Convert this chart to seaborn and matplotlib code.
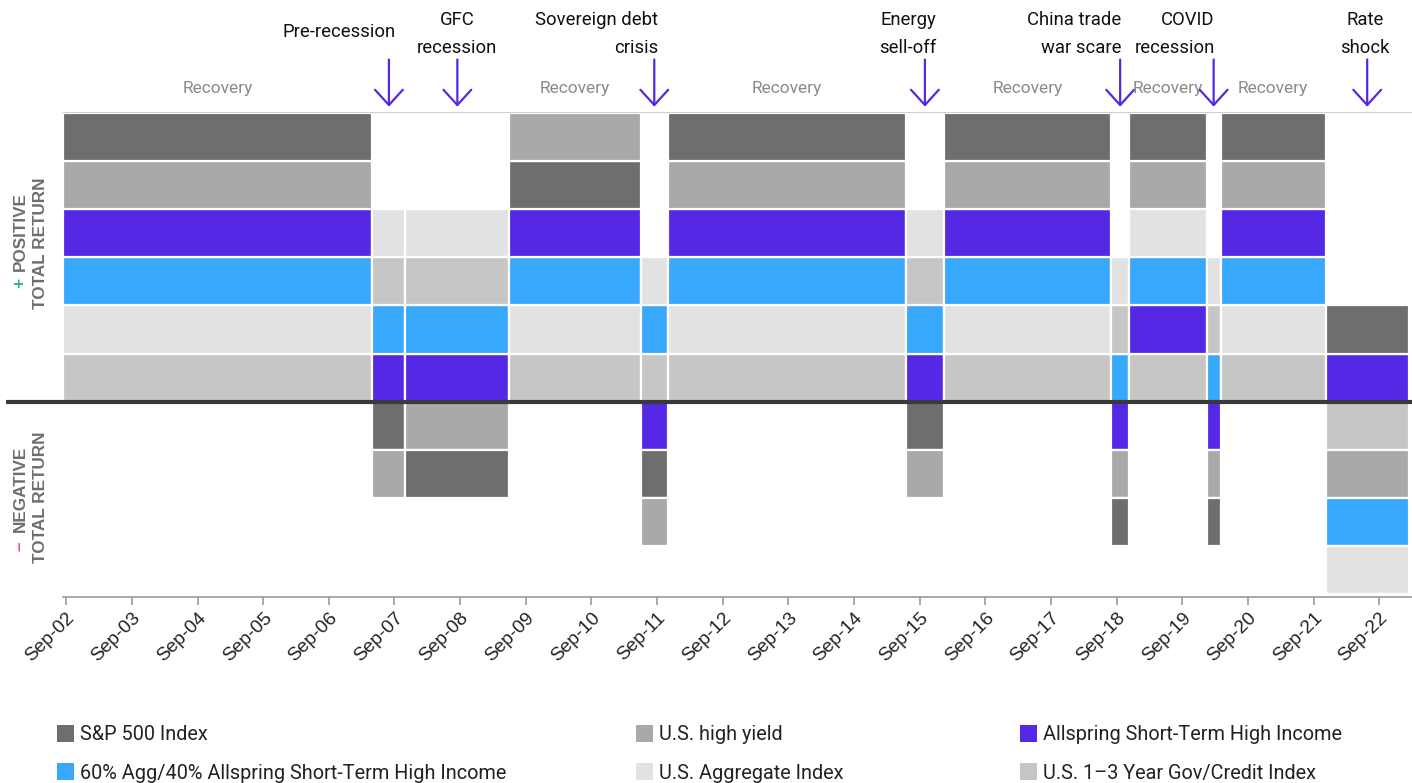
import numpy as np
import pandas as pd
import seaborn as sns
import matplotlib.pyplot as plt
from matplotlib.patches import Patch

# index names and colours
keys = ["SPX", "HY", "STHI", "6040", "AGG", "GC13"]
names = ["S&P 500 Index", "U.S. high yield", "Allspring Short-Term High Income",
         "60% Agg/40% Allspring Short-Term High Income", "U.S. Aggregate Index",
         "U.S. 1\u20133 Year Gov/Credit Index"]
colors = ["#6e6e6e", "#a9a9a9", "#5528e6", "#38a8fc", "#e2e2e2", "#c6c6c6"]

# market regimes
period_start = ["2002-08-14", "2007-05-01", "2007-11-01", "2009-06-01", "2011-06-01",
                "2011-11-01", "2015-06-15", "2016-01-15", "2018-08-01", "2018-11-10",
                "2020-01-15", "2020-04-01", "2021-11-07"]
period_end = period_start[1:] + ["2023-02-12"]
period_label = ["Recovery", "Pre-recession", "GFC\nrecession", "Recovery",
                "Sovereign debt\ncrisis", "Recovery", "Energy\nsell-off", "Recovery",
                "China trade\nwar scare", "Recovery", "COVID\nrecession", "Recovery",
                "Rate\nshock"]

# indices with positive total return, ranked upward from zero line
positive = [
    ["GC13", "AGG", "6040", "STHI", "HY", "SPX"],
    ["STHI", "6040", "GC13", "AGG"],
    ["STHI", "6040", "GC13", "AGG"],
    ["GC13", "AGG", "6040", "STHI", "SPX", "HY"],
    ["GC13", "6040", "AGG"],
    ["GC13", "AGG", "6040", "STHI", "HY", "SPX"],
    ["STHI", "6040", "GC13", "AGG"],
    ["GC13", "AGG", "6040", "STHI", "HY", "SPX"],
    ["6040", "GC13", "AGG"],
    ["GC13", "STHI", "6040", "AGG", "HY", "SPX"],
    ["6040", "GC13", "AGG"],
    ["GC13", "AGG", "6040", "STHI", "HY", "SPX"],
    ["STHI", "SPX"],
]
# indices with negative total return, ranked downward from zero line
negative = [
    [], ["SPX", "HY"], ["HY", "SPX"], [], ["STHI", "SPX", "HY"], [],
    ["SPX", "HY"], [], ["STHI", "HY", "SPX"], [], ["STHI", "HY", "SPX"], [],
    ["GC13", "HY", "6040", "AGG"],
]

tick_dates = ["%d-09-01" % y for y in range(2002, 2023)]
tick_labels = ["Sep-02", "Sep-03", "Sep-04", "Sep-05", "Sep-06", "Sep-07", "Sep-08",
               "Sep-09", "Sep-10", "Sep-11", "Sep-12", "Sep-13", "Sep-14", "Sep-15",
               "Sep-16", "Sep-17", "Sep-18", "Sep-19", "Sep-20", "Sep-21", "Sep-22"]


def dec_year(s):
    d = pd.to_datetime(pd.Series(s))
    days = np.where(d.dt.is_leap_year, 366, 365)
    return (d.dt.year + (d.dt.dayofyear - 1) / days).to_numpy()


x0 = dec_year(period_start)
x1 = dec_year(period_end)
col = dict(zip(keys, colors))

rows = []
for i in range(len(period_label)):
    for r, k in enumerate(positive[i]):
        rows.append((i, k, r))
    for r, k in enumerate(negative[i]):
        rows.append((i, k, -(r + 1)))
df = pd.DataFrame(rows, columns=["period", "index", "level"])
df["start"] = x0[df["period"]]
df["width"] = x1[df["period"]] - x0[df["period"]]

sns.set_theme(style="white")
plt.rcParams["font.family"] = ["Roboto", "DejaVu Sans"]

W, H = 1412, 783
fig = plt.figure(figsize=(W / 100, H / 100), dpi=100)
ax = fig.add_axes([63 / W, (H - 597) / H, (W - 63) / W, (597 - 112) / H])

ax.bar(df["start"], 1, width=df["width"], bottom=df["level"], align="edge",
       color=[col[k] for k in df["index"]], edgecolor="white", linewidth=1.6, zorder=2)

xl = dec_year(["2002-08-14"])[0]
ax.set_xlim(xl, xl + (W - 63) / 65.65)
ax.set_ylim(-4.06, 6.02)

# zero line
ax.plot([-0.042, 1.0], [0, 0], transform=ax.get_yaxis_transform(), color="#3a3a3a",
        lw=3, solid_capstyle="butt", clip_on=False, zorder=5)

for s in ["left", "right"]:
    ax.spines[s].set_visible(False)
ax.spines["top"].set_color("#cfcfcf")
ax.spines["top"].set_linewidth(0.8)
ax.spines["bottom"].set_color("#9a9a9a")
ax.spines["bottom"].set_linewidth(1.2)
ax.set_yticks([])
ax.set_xticks(dec_year(tick_dates))
ax.set_xticklabels(tick_labels, rotation=45, ha="right", va="top", rotation_mode="anchor",
                   fontsize=13.8, family="Liberation Sans", color="#222222")
ax.tick_params(axis="x", bottom=True, length=6, width=1.2, color="#9a9a9a", pad=3)

# regime labels and event arrows
ev_ha = {"Pre-recession": "right", "GFC\nrecession": "center", "Sovereign debt\ncrisis": "right",
         "Energy\nsell-off": "center", "China trade\nwar scare": "right",
         "COVID\nrecession": "right", "Rate\nshock": "center"}
ev_dx = {"Pre-recession": 7, "GFC\nrecession": 0, "Sovereign debt\ncrisis": 4,
         "Energy\nsell-off": -17, "China trade\nwar scare": 1, "COVID\nrecession": 1,
         "Rate\nshock": -2}
purple = "#5528e6"
for i, lab in enumerate(period_label):
    xc = (x0[i] + x1[i]) / 2
    if lab == "Recovery":
        ax.text(xc, 6.5, lab, ha="center", va="center", fontsize=12.5, color="#8a8a8a",
                clip_on=False)
    else:
        ax.annotate("", xy=(xc, 6.13), xytext=(xc, 7.11),
                    arrowprops=dict(arrowstyle="->,head_length=0.55,head_width=0.5",
                                    color=purple, lw=1.6, shrinkA=0, shrinkB=0,
                                    mutation_scale=20),
                    annotation_clip=False)
        yb = 37 if "\n" not in lab else 53
        ax.annotate(lab, xy=(xc, H - yb), xycoords=("data", "figure pixels"),
                    xytext=(ev_dx[lab] * 0.72, 0), textcoords="offset points",
                    ha=ev_ha[lab], va="baseline", fontsize=13.3, color="#111111",
                    linespacing=1.7, annotation_clip=False)

# y-side labels
grey = "#6e6e6e"
kw = dict(rotation=90, ha="center", va="center", fontsize=12.3, fontweight="bold",
          family="Liberation Sans", color=grey)
fig.text(20 / W, 1 - 232 / H, "POSITIVE", **kw)
fig.text(20 / W, 1 - 283 / H, "+", **{**kw, "color": "#2bb673"})
fig.text(41 / W, 1 - 243 / H, "TOTAL RETURN", **kw)
fig.text(20 / W, 1 - 489 / H, "NEGATIVE", **kw)
fig.text(20 / W, 1 - 546 / H, "\u2013", **{**kw, "color": "#f0506e"})
fig.text(41 / W, 1 - 497 / H, "TOTAL RETURN", **kw)

# legend, one block per column
handles = [Patch(facecolor=c, edgecolor="none") for c in colors]
col_x = [57, 636, 1020]
for j in range(3):
    hs = [handles[j], handles[j + 3]]
    ls = [names[j], names[j + 3]]
    fig.legend(hs, ls, loc="upper left", bbox_to_anchor=(col_x[j] / W, 1 - 725 / H),
               frameon=False, fontsize=14.3, handlelength=0.85, handleheight=0.95,
               handletextpad=0.3, labelspacing=0.95, borderpad=0, borderaxespad=0,
               labelcolor="#222222")

fig.savefig("out.png", dpi=100)
